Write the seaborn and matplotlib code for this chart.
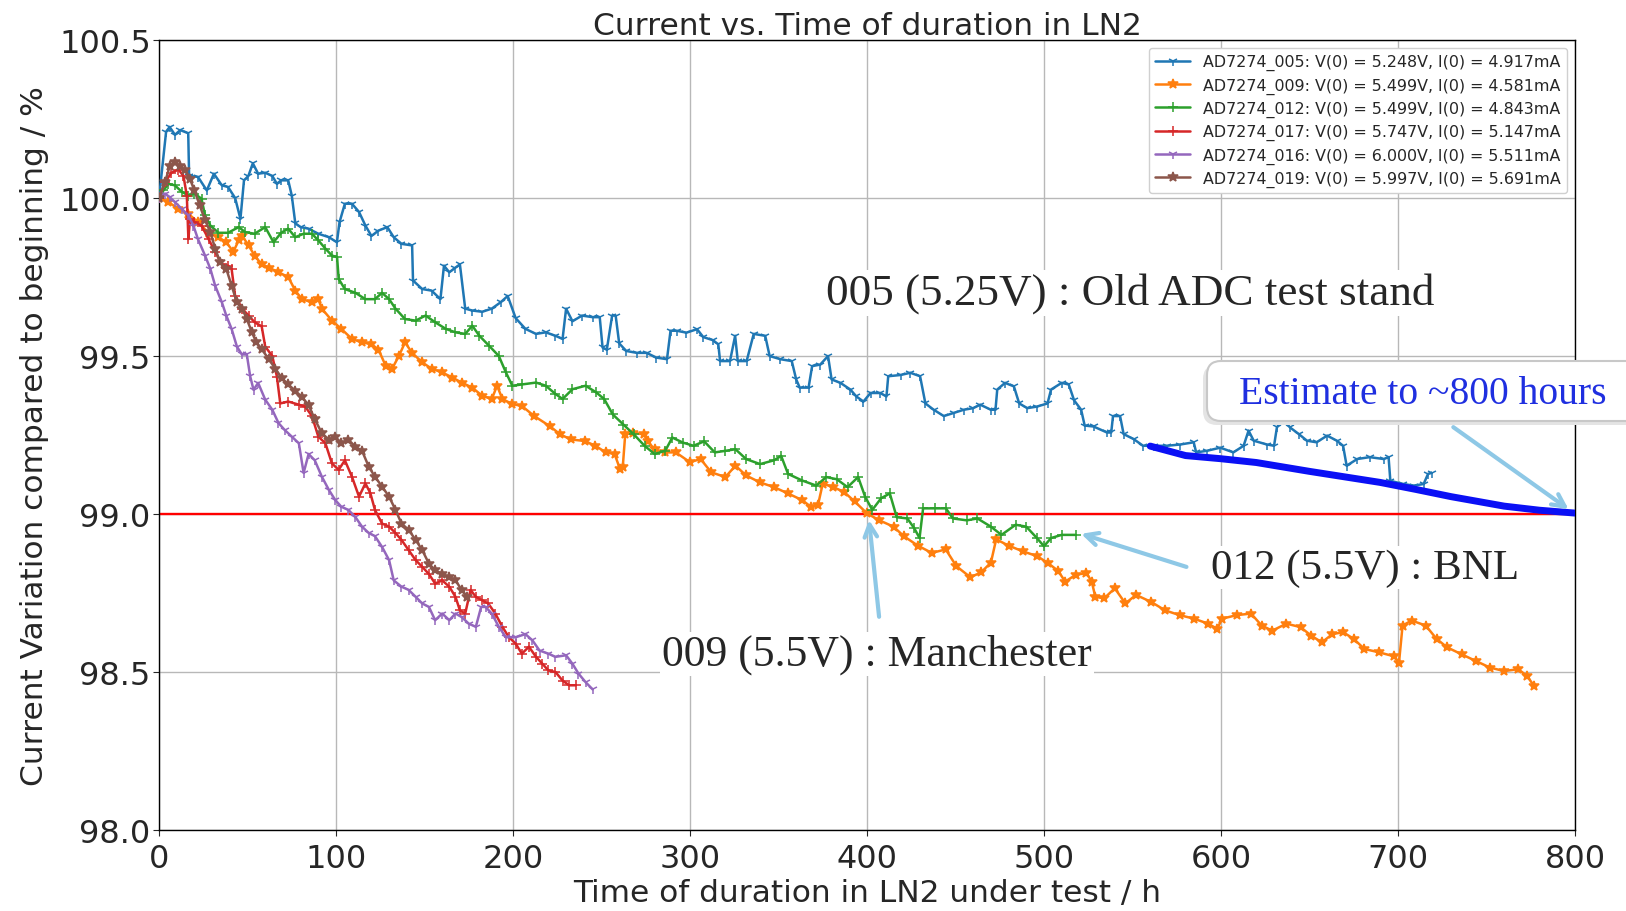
"""
LN2 current variation vs. time — AD7274 samples
"""
import numpy as np
import matplotlib
matplotlib.use("Agg")
import matplotlib.pyplot as plt
import matplotlib.patches as mpatches
from matplotlib.transforms import IdentityTransform
import seaborn as sns

# ── data (h, % of initial current) ─────────────────────────────────────
t_005 = [0, 4, 6, 9, 12, 16.5, 17, 22, 27, 31, 35.5, 39, 43, 46, 48, 50.5, 53, 56, 60, 64,
         66.6, 69, 73, 75, 77, 80, 84.5, 90, 96, 100.5, 102, 105, 109, 113, 116.6, 120, 124,
         129, 132.6, 137, 143, 143.5, 148.7, 154, 159, 161, 164, 167.5, 170, 173, 177, 182.6,
         188, 193, 197, 201.5, 207, 213, 218.5, 224, 228, 230, 233.6, 239, 245, 249, 250.6,
         253, 256, 258, 260, 264, 270, 275.5, 281, 287, 289, 292.5, 298, 304, 307.5, 313,
         316, 317, 322.6, 325.5, 327, 332, 336, 342.5, 345, 351, 357.5, 360, 362, 367, 369,
         373.6, 378, 380, 385, 390.6, 394, 398, 402, 407.5, 411, 412, 419, 424.5, 430, 433,
         437.7, 443.4, 449, 454.7, 460, 464, 470, 472.6, 473.6, 478, 483, 486, 490.6, 496,
         502, 504, 510, 514, 517, 521, 523, 528, 535.6, 538, 539, 543, 545, 550.7, 556, 562,
         569.5, 577, 584.6, 586, 592, 599.6, 607, 612.8, 615.6, 618.5, 626, 630, 631.6, 635,
         639, 644, 648.6, 654, 660, 665.5, 669, 671, 677, 684, 692, 694.7, 695.7, 703, 709,
         714.5, 717, 719]
i_005 = [100.0, 100.21, 100.225, 100.20, 100.215, 100.205, 100.07, 100.067, 100.024, 100.077,
         100.04, 100.035, 100.0, 99.934, 100.056, 100.07, 100.11, 100.077, 100.08, 100.07,
         100.045, 100.056, 100.056, 100.008, 99.92, 99.908, 99.903, 99.887, 99.876, 99.86,
         99.924, 99.982, 99.982, 99.956, 99.913, 99.88, 99.897, 99.908, 99.876, 99.855, 99.85,
         99.739, 99.712, 99.707, 99.68, 99.786, 99.765, 99.78, 99.79, 99.65, 99.644, 99.64,
         99.65, 99.67, 99.69, 99.62, 99.586, 99.57, 99.575, 99.564, 99.554, 99.65, 99.61,
         99.628, 99.623, 99.623, 99.527, 99.52, 99.628, 99.628, 99.54, 99.516, 99.51, 99.51,
         99.495, 99.49, 99.58, 99.58, 99.574, 99.585, 99.56, 99.55, 99.537, 99.484, 99.484,
         99.564, 99.484, 99.484, 99.57, 99.564, 99.5, 99.49, 99.484, 99.426, 99.4, 99.4,
         99.468, 99.473, 99.5, 99.426, 99.415, 99.394, 99.372, 99.356, 99.383, 99.383, 99.372,
         99.436, 99.44, 99.447, 99.436, 99.35, 99.33, 99.31, 99.32, 99.33, 99.335, 99.346,
         99.33, 99.33, 99.394, 99.415, 99.404, 99.35, 99.335, 99.34, 99.35, 99.394, 99.415,
         99.41, 99.36, 99.33, 99.28, 99.277, 99.258, 99.258, 99.31, 99.31, 99.253, 99.237,
         99.216, 99.216, 99.216, 99.22, 99.227, 99.195, 99.2, 99.21, 99.195, 99.216, 99.264,
         99.232, 99.22, 99.216, 99.274, 99.3, 99.274, 99.253, 99.232, 99.227, 99.248, 99.232,
         99.216, 99.153, 99.174, 99.18, 99.174, 99.18, 99.105, 99.095, 99.09, 99.095, 99.127,
         99.13]

t_009 = [0, 5.3, 11, 16.6, 22, 28, 33.6, 38, 42, 45, 47, 50.6, 54, 58, 62, 67.5, 73, 77,
         80.8, 86.4, 90, 92, 97.7, 103, 109, 114.7, 120, 124, 128, 131.7, 135.5, 139, 143,
         148.7, 154, 160, 165.7, 171, 177, 182.6, 188, 191, 194, 199.6, 205, 212, 220.8,
         226.7, 232.7, 240.6, 246.5, 252.5, 257.4, 260.4, 262, 263.4, 268, 274, 276, 280, 286,
         292, 300, 306, 312, 320, 325.7, 331.7, 339.6, 347.5, 355.4, 363.4, 368.3, 372.3, 375,
         381, 387, 393, 400, 407, 415, 420.8, 428.7, 436.6, 444.5, 450.5, 458.4, 464.4, 470,
         473, 480, 488, 496, 502, 508, 512, 518, 524, 527, 529, 534, 540, 546, 552, 560.5,
         568.5, 576.6, 584.7, 592.7, 597.8, 600.8, 608.9, 617, 623, 629, 637, 645, 651, 657,
         663, 669, 675, 681, 689.5, 697.6, 700.6, 702.6, 707.7, 715.7, 721.8, 727.8, 736,
         744, 752, 760, 768, 773, 777]
i_009 = [100.0, 99.987, 99.966, 99.95, 99.924, 99.89, 99.876, 99.86, 99.83, 99.866, 99.88,
         99.85, 99.818, 99.79, 99.78, 99.765, 99.75, 99.707, 99.68, 99.67, 99.68, 99.65,
         99.612, 99.586, 99.554, 99.543, 99.538, 99.52, 99.47, 99.46, 99.5, 99.543, 99.51,
         99.48, 99.46, 99.448, 99.432, 99.416, 99.4, 99.374, 99.364, 99.406, 99.364, 99.348,
         99.342, 99.31, 99.278, 99.252, 99.236, 99.231, 99.216, 99.195, 99.19, 99.143, 99.148,
         99.252, 99.257, 99.252, 99.23, 99.205, 99.195, 99.195, 99.164, 99.174, 99.132,
         99.117, 99.153, 99.122, 99.1, 99.085, 99.065, 99.044, 99.023, 99.028, 99.096, 99.085,
         99.07, 99.04, 99.002, 98.98, 98.96, 98.93, 98.9, 98.877, 98.888, 98.835, 98.8, 98.815,
         98.846, 98.92, 98.9, 98.882, 98.867, 98.846, 98.82, 98.786, 98.808, 98.813, 98.786,
         98.738, 98.733, 98.765, 98.717, 98.744, 98.722, 98.695, 98.68, 98.669, 98.653,
         98.637, 98.669, 98.68, 98.685, 98.647, 98.631, 98.653, 98.642, 98.615, 98.594, 98.62,
         98.626, 98.605, 98.573, 98.562, 98.55, 98.53, 98.647, 98.663, 98.647, 98.605, 98.578,
         98.556, 98.535, 98.514, 98.503, 98.509, 98.487, 98.455]

t_012 = [0, 2.5, 5.3, 9, 12.8, 16.6, 20, 24, 26, 29, 33.6, 39, 45, 48.7, 54, 60, 64.7, 69,
         73, 77, 81.7, 86.4, 90, 94, 97.7, 100.6, 101.5, 105, 111, 116.6, 122, 126, 130,
         133.6, 139, 145, 150.6, 156, 162, 167.5, 173, 177, 181, 186.4, 192, 196, 199.6, 205,
         213, 218.5, 224, 228, 233.6, 241, 247, 251.5, 256.4, 262.4, 268.3, 274.3, 280, 286,
         290, 296, 302, 308, 314, 320, 325.7, 331.7, 339.6, 347.5, 351.5, 355.4, 363.4,
         371.3, 377, 383, 389, 395, 399, 403, 408, 412.9, 416.8, 422.8, 426.7, 429.7, 431.7,
         438.6, 444.6, 448.5, 456.4, 462.4, 470, 476, 484, 490, 496, 500, 504, 510, 518]
i_012 = [100.0, 100.024, 100.045, 100.04, 100.02, 100.008, 100.014, 99.998, 99.945, 99.913,
         99.89, 99.89, 99.908, 99.892, 99.887, 99.908, 99.86, 99.89, 99.903, 99.876, 99.887,
         99.887, 99.866, 99.84, 99.818, 99.813, 99.744, 99.712, 99.7, 99.68, 99.68, 99.7,
         99.68, 99.65, 99.617, 99.612, 99.628, 99.607, 99.586, 99.575, 99.57, 99.596, 99.564,
         99.533, 99.5, 99.448, 99.406, 99.41, 99.416, 99.406, 99.38, 99.364, 99.395, 99.406,
         99.385, 99.364, 99.315, 99.283, 99.252, 99.216, 99.19, 99.2, 99.242, 99.226, 99.216,
         99.23, 99.195, 99.2, 99.205, 99.174, 99.158, 99.17, 99.184, 99.127, 99.106, 99.09,
         99.117, 99.11, 99.085, 99.117, 99.054, 99.013, 99.05, 99.065, 98.99, 98.986, 98.955,
         98.924, 99.018, 99.018, 99.018, 98.986, 98.98, 98.986, 98.96, 98.934, 98.966, 98.96,
         98.924, 98.898, 98.924, 98.934, 98.934]

t_017 = [0, 3.4, 7, 11, 13.8, 15.7, 16.6, 17.5, 20, 24, 28, 31.7, 35.5, 39, 41, 43, 47, 50.6,
         54, 58, 60, 64, 66.6, 68.5, 73, 79, 82.6, 86.4, 90, 94, 97.7, 101.5, 105, 109, 113,
         116.6, 119.4, 122, 126, 130, 133.6, 137, 141, 145, 148.7, 152.5, 156, 160, 164,
         167.5, 170, 173, 176, 179, 182.6, 186, 190, 194, 197.7, 201.5, 205, 209, 213, 216.6,
         220, 224, 228, 231.7, 235.5]
i_017 = [100.0, 100.05, 100.08, 100.09, 100.07, 100.008, 99.87, 99.934, 99.924, 99.913,
         99.87, 99.83, 99.79, 99.786, 99.776, 99.69, 99.65, 99.628, 99.607, 99.594, 99.53,
         99.5, 99.435, 99.35, 99.356, 99.346, 99.34, 99.31, 99.245, 99.224, 99.16, 99.14,
         99.17, 99.118, 99.055, 99.097, 99.066, 99.013, 98.97, 98.96, 98.94, 98.918, 98.886,
         98.854, 98.833, 98.81, 98.78, 98.79, 98.77, 98.738, 98.695, 98.685, 98.76, 98.738,
         98.727, 98.717, 98.685, 98.643, 98.61, 98.59, 98.558, 98.58, 98.548, 98.526, 98.505,
         98.5, 98.473, 98.458, 98.458]

t_016 = [0, 3.4, 6, 9, 12.8, 16.6, 19.4, 22, 26, 29, 31.7, 35.5, 38, 41, 44, 46.8, 49.6, 51.5,
         53.4, 56, 60, 64, 67.5, 71, 75, 79, 81.7, 84.5, 88, 92, 96, 99.6, 103, 107, 111,
         114.7, 118.5, 122, 126, 130, 132.6, 137, 141, 145, 148.7, 152.5, 156, 160, 164,
         167.5, 171, 175, 179, 182, 184.5, 188, 192, 196, 201.5, 207, 211, 215, 220, 224, 230,
         233.6, 237, 241, 245]
i_016 = [100.0, 100.014, 100.003, 99.987, 99.966, 99.945, 99.913, 99.87, 99.818, 99.776,
         99.723, 99.67, 99.628, 99.586, 99.53, 99.505, 99.505, 99.436, 99.393, 99.415, 99.362,
         99.33, 99.288, 99.266, 99.245, 99.224, 99.13, 99.19, 99.17, 99.118, 99.076, 99.044,
         99.023, 99.013, 98.99, 98.96, 98.94, 98.93, 98.896, 98.854, 98.79, 98.77, 98.76,
         98.738, 98.717, 98.706, 98.664, 98.685, 98.664, 98.685, 98.674, 98.653, 98.643,
         98.706, 98.706, 98.685, 98.643, 98.61, 98.61, 98.62, 98.6, 98.568, 98.558, 98.548,
         98.553, 98.526, 98.495, 98.468, 98.445]

t_019 = [0, 3.4, 6, 9, 12, 14.7, 17.5, 20, 23, 26, 29, 31.7, 34.5, 38, 41, 44, 47, 49.6,
         52.5, 55, 58, 62, 65.7, 69.4, 73, 77, 80.8, 84.5, 88, 92, 96, 99.6, 103, 107, 111,
         114.7, 118.5, 122, 126, 130, 133.6, 137, 141, 145, 148.7, 152.5, 156, 160, 164,
         167.5, 171, 174]
i_019 = [100.0, 100.05, 100.1, 100.114, 100.1, 100.088, 100.06, 100.024, 99.977, 99.93,
         99.892, 99.84, 99.797, 99.776, 99.723, 99.67, 99.65, 99.617, 99.575, 99.543, 99.522,
         99.49, 99.46, 99.43, 99.41, 99.39, 99.37, 99.345, 99.3, 99.256, 99.235, 99.245,
         99.224, 99.235, 99.213, 99.2, 99.15, 99.118, 99.087, 99.055, 99.013, 98.97, 98.95,
         98.918, 98.886, 98.843, 98.822, 98.81, 98.8, 98.79, 98.76, 98.738]

t_est = [560, 580, 600, 620, 650, 690, 710, 730, 760, 780, 800]
i_est = [99.215, 99.185, 99.175, 99.163, 99.135, 99.1, 99.078, 99.055, 99.025, 99.012, 99.003]

labels = ["AD7274_005: V(0) = 5.248V, I(0) = 4.917mA",
          "AD7274_009: V(0) = 5.499V, I(0) = 4.581mA",
          "AD7274_012: V(0) = 5.499V, I(0) = 4.843mA",
          "AD7274_017: V(0) = 5.747V, I(0) = 5.147mA",
          "AD7274_016: V(0) = 6.000V, I(0) = 5.511mA",
          "AD7274_019: V(0) = 5.997V, I(0) = 5.691mA"]
series = [(t_005, i_005), (t_009, i_009), (t_012, i_012),
          (t_017, i_017), (t_016, i_016), (t_019, i_019)]
markers = ["1", "*", "+", "+", "1", "*"]

# ── style ─────────────────────────────────────────────────────────────
sns.set_style("whitegrid", {"axes.edgecolor": "black", "grid.color": "#b8b8b8",
                            "xtick.bottom": True, "ytick.left": True})
plt.rcParams["font.family"] = ["DejaVu Sans"]
serif = ["Liberation Serif", "DejaVu Serif"]

fig = plt.figure(figsize=(16.26, 9.12), dpi=100)
ax = fig.add_axes([0.0978, 0.0888, 0.8708, 0.8662])

colors = sns.color_palette("tab10", 6)
for (t, v), lab, c, m in zip(series, labels, colors, markers):
    sns.lineplot(x=t, y=v, ax=ax, color=c, lw=1.8, marker=m, markersize=7,
                 markeredgecolor=c, markeredgewidth=1.1, label=lab, zorder=3)

ax.axhline(99.0, color="red", lw=1.7, zorder=2)
sns.lineplot(x=t_est, y=i_est, ax=ax, color="#0a10f5", lw=5, zorder=5,
             solid_capstyle="round")

ax.set_xlim(0, 800)
ax.set_ylim(98.0, 100.5)
ax.set_xticks(np.arange(0, 801, 100))
ax.set_yticks(np.arange(98.0, 100.51, 0.5))
ax.yaxis.set_major_formatter(matplotlib.ticker.FormatStrFormatter("%.1f"))
ax.tick_params(labelsize=23, length=4, pad=2)
ax.tick_params(axis="x", pad=5)
ax.grid(True, lw=1.0)
for s in ax.spines.values():
    s.set_linewidth(1.0)

ax.set_title("Current vs. Time of duration in LN2", fontsize=22.5, pad=4)
ax.set_xlabel("Time of duration in LN2 under test / h", fontsize=22.5, labelpad=3)
ax.set_ylabel("Current Variation compared to beginning / %", fontsize=22.5, labelpad=7)

ax.legend(loc="upper right", fontsize=11.4, framealpha=1.0, edgecolor="#d0d0d0",
          borderaxespad=0.5, handlelength=2.2, labelspacing=0.45)

# ── annotations ───────────────────────────────────────────────────────
box = dict(fc="white", ec="none", pad=1.5)
ax.text(376.8, 99.70, "005 (5.25V) : Old ADC test stand", fontsize=32.5, family=serif,
        ha="left", va="center", bbox=box, zorder=6)
ax.text(594.4, 98.83, "012 (5.5V) : BNL", fontsize=31, family=serif,
        ha="left", va="center", bbox=box, zorder=6)
ax.text(284.2, 98.557, "009 (5.5V) : Manchester", fontsize=31.5, family=serif,
        ha="left", va="center", bbox=box, zorder=6)

# rounded callout box for the estimate, cut off at the right edge like the slide
for xy, fc, ec, z in [((1203, 912 - 426), "#e4e4e4", "none", 7),
                      ((1207, 912 - 422), "white", "#c8c8c8", 8)]:
    p = mpatches.FancyBboxPatch(xy, 460, 60, transform=IdentityTransform(),
                                boxstyle="round,pad=0,rounding_size=14",
                                fc=fc, ec=ec, lw=1.5, zorder=z)
    ax.add_artist(p)
    p.set_clip_on(False)
ax.text(610.2, 99.382, "Estimate to ~800 hours", fontsize=28.5, family=serif,
        color="#1f2fe0", ha="left", va="center", zorder=9, clip_on=False)

arrow = dict(arrowstyle="->,head_length=0.9,head_width=0.45", color="#8ec8e6", lw=3)
ax.annotate("", xy=(401, 98.99), xytext=(407, 98.666), arrowprops=arrow,
            annotation_clip=False, zorder=7)
ax.annotate("", xy=(519.5, 98.94), xytext=(582, 98.83), arrowprops=arrow,
            annotation_clip=False, zorder=7)
ax.annotate("", xy=(797.7, 99.01), xytext=(730, 99.28), arrowprops=arrow,
            annotation_clip=False, zorder=7)

fig.savefig("out.png", dpi=100)
